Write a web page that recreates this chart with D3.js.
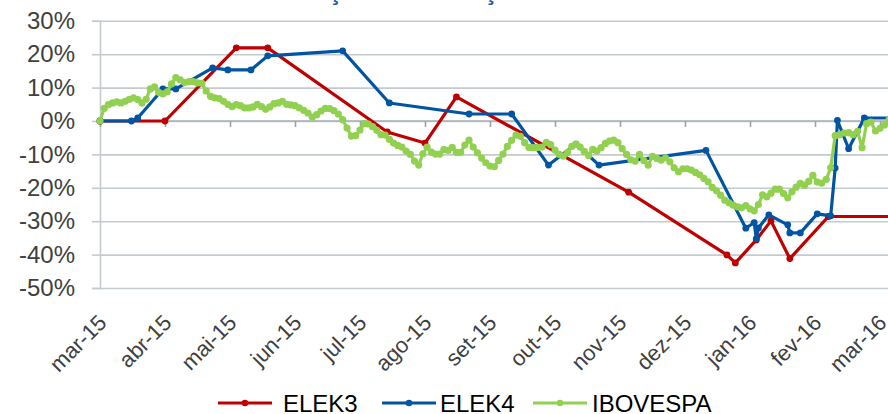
<!DOCTYPE html>
<html>
<head>
<meta charset="utf-8">
<script src="https://cdn.jsdelivr.net/npm/d3@7"></script>
<style>
  html, body { margin: 0; padding: 0; background: #fff; }
  svg { display: block; font-family: "Liberation Sans", Arial, sans-serif; }
</style>
</head>
<body>
<svg id="chart" width="888" height="414"></svg>
<script>
// ---------------- DATA ----------------
const title = "Evolução das Cotações x IBOVESPA";
const monthLabels = ["mar-15","abr-15","mai-15","jun-15","jul-15","ago-15","set-15","out-15","nov-15","dez-15","jan-16","fev-16","mar-16"];
const monthStarts = ["2015-03-01","2015-04-01","2015-05-01","2015-06-01","2015-07-01","2015-08-01","2015-09-01","2015-10-01","2015-11-01","2015-12-01","2016-01-01","2016-02-01","2016-03-01"];
const yTicks = [30, 20, 10, 0, -10, -20, -30, -40, -50];
const seriesNames = ["ELEK3", "ELEK4", "IBOVESPA"];

const elek3 = [
  ["2015-03-01", 0], ["2015-04-01", 0], ["2015-05-04", 21.9], ["2015-05-19", 21.9],
  ["2015-07-14", -3.3], ["2015-08-01", -6.6], ["2015-08-16", 7.2], ["2015-11-05", -21.3],
  ["2015-12-21", -40.1], ["2015-12-25", -42.5], ["2016-01-04", -35.6], ["2016-01-11", -29.9],
  ["2016-01-20", -41.2], ["2016-02-07", -28.6], ["2016-03-07", -28.6]
];

const elek4 = [
  ["2015-03-01", 0], ["2015-03-16", 0], ["2015-03-19", 0.9], ["2015-03-31", 9.6],
  ["2015-04-06", 9.6], ["2015-04-23", 15.9], ["2015-04-30", 15.3], ["2015-05-11", 15.3],
  ["2015-05-19", 19.5], ["2015-06-23", 21.0], ["2015-07-15", 5.4], ["2015-08-22", 2.1],
  ["2015-09-11", 2.1], ["2015-09-28", -13.2], ["2015-10-11", -6.9], ["2015-10-22", -13.2],
  ["2015-12-11", -8.8], ["2015-12-30", -32.1], ["2016-01-03", -30.4], ["2016-01-04", -35.2],
  ["2016-01-05", -32.0], ["2016-01-10", -28.1], ["2016-01-19", -31.1], ["2016-01-20", -33.5],
  ["2016-01-25", -33.5], ["2016-02-02", -27.8], ["2016-02-08", -28.4], ["2016-02-10", -14.1],
  ["2016-02-11", 0.2], ["2016-02-16", -8.3], ["2016-02-23", 0.9], ["2016-03-07", 0.9]
];

const ibovespa = [
  ["2015-03-01",0],["2015-03-03",3.8],["2015-03-05",4.9],["2015-03-07",5.4],["2015-03-09",5.7],["2015-03-11",5.4],
  ["2015-03-13",5.9],["2015-03-15",6.5],["2015-03-17",6.9],["2015-03-19",6.4],["2015-03-21",5.4],["2015-03-23",6.5],
  ["2015-03-25",9.6],["2015-03-27",10.2],["2015-03-29",8.6],["2015-03-31",8.1],
  ["2015-04-02",8.7],["2015-04-04",11.1],["2015-04-06",13.0],["2015-04-08",12.3],["2015-04-10",11.5],["2015-04-12",11.8],
  ["2015-04-14",11.8],["2015-04-16",11.4],["2015-04-18",11.3],["2015-04-20",9.0],["2015-04-22",7.4],["2015-04-24",6.9],
  ["2015-04-26",6.7],["2015-04-28",5.9],["2015-04-30",5.0],
  ["2015-05-02",4.3],["2015-05-04",4.9],["2015-05-06",4.6],["2015-05-08",3.9],["2015-05-10",3.9],["2015-05-12",4.2],
  ["2015-05-14",5.0],["2015-05-16",4.3],["2015-05-18",3.5],["2015-05-20",4.2],["2015-05-22",5.2],["2015-05-24",5.4],
  ["2015-05-26",5.9],["2015-05-28",5.0],["2015-05-30",4.8],
  ["2015-06-01",4.6],["2015-06-03",3.9],["2015-06-05",3.2],["2015-06-07",2.4],["2015-06-09",1.2],["2015-06-11",1.9],
  ["2015-06-13",3.0],["2015-06-15",3.8],["2015-06-17",3.7],["2015-06-19",3.1],["2015-06-21",2.1],["2015-06-23",0.4],
  ["2015-06-25",-2.1],["2015-06-27",-4.5],["2015-06-29",-4.4],
  ["2015-07-01",-2.7],["2015-07-03",-0.8],["2015-07-05",-0.9],["2015-07-07",-1.7],["2015-07-09",-2.8],["2015-07-11",-4.1],
  ["2015-07-13",-4.2],["2015-07-15",-5.5],["2015-07-17",-6.6],["2015-07-19",-7.3],["2015-07-21",-7.8],["2015-07-23",-9.0],
  ["2015-07-25",-10.0],["2015-07-27",-12.0],["2015-07-29",-13.2],["2015-07-31",-9.8],
  ["2015-08-02",-7.8],["2015-08-04",-9.3],["2015-08-06",-9.9],["2015-08-08",-9.9],["2015-08-10",-8.6],["2015-08-12",-8.8],
  ["2015-08-14",-7.9],["2015-08-16",-9.4],["2015-08-18",-9.4],["2015-08-20",-7.2],["2015-08-22",-5.7],["2015-08-24",-7.8],
  ["2015-08-26",-9.5],["2015-08-28",-11.1],["2015-08-30",-12.5],
  ["2015-09-01",-13.5],["2015-09-03",-13.7],["2015-09-05",-11.8],["2015-09-07",-9.9],["2015-09-09",-7.6],["2015-09-11",-5.8],
  ["2015-09-13",-4.2],["2015-09-15",-4.6],["2015-09-17",-6.5],["2015-09-19",-7.9],["2015-09-21",-8.0],["2015-09-23",-7.9],
  ["2015-09-25",-7.8],["2015-09-27",-6.4],["2015-09-29",-7.1],
  ["2015-10-01",-8.7],["2015-10-03",-10.0],["2015-10-05",-10.5],["2015-10-07",-9.4],["2015-10-09",-7.6],["2015-10-11",-6.9],
  ["2015-10-13",-7.8],["2015-10-15",-9.1],["2015-10-17",-10.3],["2015-10-19",-8.5],["2015-10-21",-9.0],["2015-10-23",-8.0],
  ["2015-10-25",-6.7],["2015-10-27",-6.0],["2015-10-29",-5.7],["2015-10-31",-6.5],
  ["2015-11-02",-8.3],["2015-11-04",-10.0],["2015-11-06",-11.6],["2015-11-08",-12.0],["2015-11-10",-10.0],["2015-11-12",-11.8],
  ["2015-11-14",-13.2],["2015-11-16",-10.6],["2015-11-18",-11.2],["2015-11-20",-11.7],["2015-11-22",-11.0],["2015-11-24",-12.2],
  ["2015-11-26",-14.0],["2015-11-28",-15.2],["2015-11-30",-14.3],
  ["2015-12-02",-14.3],["2015-12-04",-14.7],["2015-12-06",-15.4],["2015-12-08",-16.1],["2015-12-10",-17.2],["2015-12-12",-18.2],
  ["2015-12-14",-19.9],["2015-12-16",-20.9],["2015-12-18",-22.2],["2015-12-20",-23.7],["2015-12-22",-24.5],["2015-12-24",-25.2],
  ["2015-12-26",-25.7],["2015-12-28",-26.0],["2015-12-30",-25.3],
  ["2016-01-01",-26.3],["2016-01-03",-26.9],["2016-01-05",-25.0],["2016-01-07",-22.1],["2016-01-09",-22.7],["2016-01-11",-21.6],
  ["2016-01-13",-20.4],["2016-01-15",-20.4],["2016-01-17",-21.7],["2016-01-19",-23.0],["2016-01-21",-21.2],["2016-01-23",-19.8],
  ["2016-01-25",-18.7],["2016-01-27",-19.2],["2016-01-29",-18.1],["2016-01-31",-16.3],
  ["2016-02-02",-18.3],["2016-02-04",-18.6],["2016-02-06",-17.5],["2016-02-08",-14.0],["2016-02-10",-4.4],["2016-02-12",-4.1],
  ["2016-02-14",-3.6],["2016-02-16",-3.5],["2016-02-18",-4.1],["2016-02-20",-3.1],["2016-02-22",-8.0],["2016-02-24",-0.8],
  ["2016-02-26",-0.3],["2016-02-28",-3.0],
  ["2016-03-01",-2.2],["2016-03-03",-1.2],["2016-03-05",0.3]
];

const colors = ["#C00000", "#0055A2", "#92D050"];

// ---------------- LAYOUT ----------------
const W = 888, H = 414;
const plot = { left: 100, right: 888, top: 20.8, bottom: 288 };
const lastTickX = 880;
const parse = d3.timeParse("%Y-%m-%d");
const months = monthStarts.map(parse);
const monthW = (lastTickX - plot.left) / (months.length - 1);

const x = d3.scaleTime()
  .domain(months)
  .range(months.map((d, i) => plot.left + i * monthW));
const y = d3.scaleLinear().domain([-50, 30]).range([plot.bottom, plot.top]);

const svg = d3.select("#chart");

// title (cropped at top in the reference)
svg.append("text")
  .attr("x", 478).attr("y", 0.3)
  .attr("text-anchor", "middle")
  .attr("font-size", 25).attr("font-weight", "bold")
  .attr("fill", "#1F5FA8")
  .text(title);

// gridlines
const grid = svg.append("g").attr("transform", `translate(${plot.left},0)`)
  .call(d3.axisLeft(y).tickValues(yTicks).tickSize(-(plot.right - plot.left)).tickFormat(""));
grid.select(".domain").remove();
grid.selectAll("line").attr("stroke", "#C3CBD0").attr("stroke-width", 1.6);

// y axis ticks + labels
const yAxis = svg.append("g").attr("transform", `translate(${plot.left},0)`)
  .call(d3.axisLeft(y).tickValues(yTicks).tickSize(8).tickPadding(17).tickFormat(d => d + "%"));
yAxis.select(".domain").attr("stroke", "#C3CBD0").attr("stroke-width", 1.6);
yAxis.selectAll(".tick line").attr("stroke", "#C3CBD0").attr("stroke-width", 1.6);
yAxis.selectAll("text").attr("font-size", 24).attr("fill", "#404040")
  .attr("font-family", "'Liberation Sans', Arial, sans-serif");

// x axis at 0%
const xAxis = svg.append("g").attr("transform", `translate(0,${y(0)})`)
  .call(d3.axisBottom(x).tickValues(months).tickSize(6).tickFormat(""));
xAxis.select(".domain").attr("d", `M${plot.left},0H${plot.right}`).attr("stroke", "#A9B1B6").attr("stroke-width", 1.6);
xAxis.selectAll(".tick line").attr("stroke", "#A0A0A0").attr("stroke-width", 1.6);

// x labels (rotated, below plot)
svg.append("g").selectAll("text")
  .data(months)
  .join("text")
  .attr("transform", (d) => `translate(${x(d) + 8},${plot.bottom + 36}) rotate(-45)`)
  .attr("text-anchor", "end")
  .attr("font-size", 22)
  .attr("fill", "#404040")
  .text((d, i) => monthLabels[i]);

// clip
svg.append("clipPath").attr("id", "clip")
  .append("rect").attr("x", plot.left - 6).attr("y", 0).attr("width", W).attr("height", plot.bottom + 10);

const line = d3.line().x(d => x(parse(d[0]))).y(d => y(d[1]));
const seriesData = [elek3, elek4, ibovespa];
const widths = [3.2, 3.2, 3.2];
const radii = [3.4, 3.4, 3.6];

const marks = svg.append("g").attr("clip-path", "url(#clip)");
seriesData.forEach((data, i) => {
  const g = marks.append("g");
  g.append("path").datum(data)
    .attr("d", line)
    .attr("fill", "none")
    .attr("stroke", colors[i])
    .attr("stroke-width", widths[i])
    .attr("stroke-linejoin", "round");
  g.selectAll("circle").data(data).join("circle")
    .attr("cx", d => x(parse(d[0])))
    .attr("cy", d => y(d[1]))
    .attr("r", radii[i])
    .attr("fill", colors[i]);
});

// legend
const legendItems = [
  { x0: 218, tx: 283 },
  { x0: 382, tx: 440 },
  { x0: 533, tx: 592 }
];
const legY = 403;
const leg = svg.append("g");
seriesNames.forEach((name, i) => {
  const it = legendItems[i];
  leg.append("line").attr("x1", it.x0).attr("x2", it.x0 + 54).attr("y1", legY).attr("y2", legY)
    .attr("stroke", colors[i]).attr("stroke-width", 3.2);
  leg.append("circle").attr("cx", it.x0 + 27).attr("cy", legY).attr("r", 3.3).attr("fill", colors[i]);
  leg.append("text").attr("x", it.tx).attr("y", legY + 8.5)
    .attr("font-size", 24).attr("fill", "#000").text(name);
});
</script>
</body>
</html>
